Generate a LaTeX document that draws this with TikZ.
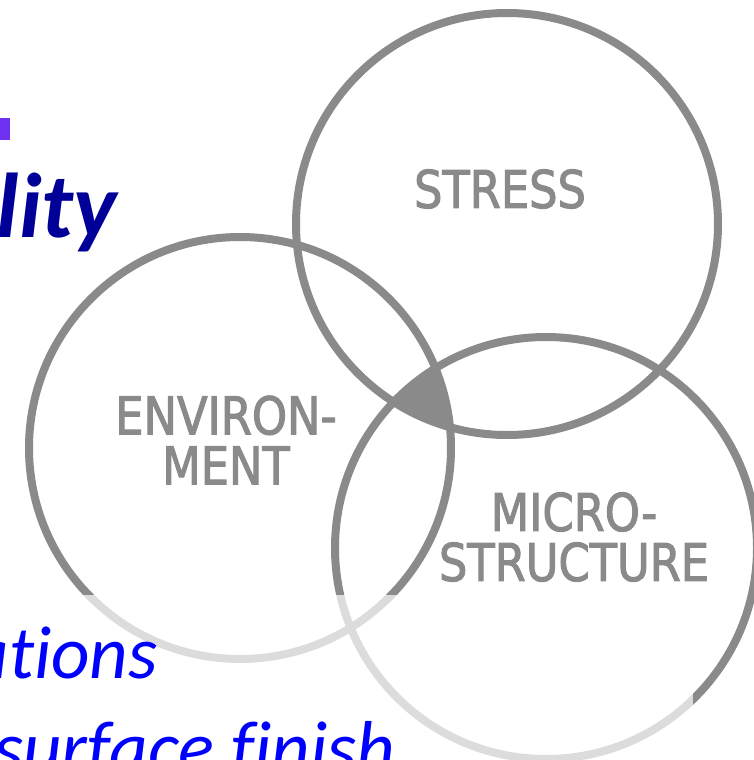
\documentclass[tikz,border=0pt]{standalone}
\usepackage{fontspec}
\newfontfamily\slidefont[Ligatures={NoCommon}]{Carlito}
\newfontfamily\letterfont[FakeStretch=0.86,FakeBold=2]{DejaVu Sans}
\definecolor{ringgray}{RGB}{138,138,138}
\definecolor{titleblue}{RGB}{0,0,153}
\definecolor{textblue}{RGB}{0,0,255}
\definecolor{titleviolet}{RGB}{112,48,240}
\tikzset{
  ring/.style={draw=ringgray,line width=8pt},
  lettering/.style={text=ringgray,inner sep=0pt,align=center,
    font=\letterfont\fontsize{52pt}{50pt}\selectfont},
  slidetext/.style={inner sep=0pt,font=\slidefont\itshape\fontsize{75pt}{80pt}\selectfont}
}

\begin{document}
\begin{tikzpicture}[x=1pt,y=-1pt]
  \clip (0,0) rectangle (754,760);
  \coordinate (stress) at (507,224);
  \coordinate (environment) at (240,448);
  \coordinate (micro) at (546,548);

  \begin{scope}
    \clip (stress) circle [radius=211];
    \clip (environment) circle [radius=211];
    \fill [ringgray] (micro) circle [radius=211];
  \end{scope}
  \draw [ring] (stress) circle [radius=211];
  \draw [ring] (environment) circle [radius=211];
  \draw [ring] (micro) circle [radius=211];

  \node [lettering] (stresstext) at (500,189) {STRESS};
  \node [lettering] (envtext) at (226,440) {ENVIRON-\\MENT};
  \node [lettering] (microtext) at (574,537) {MICRO-\\STRUCTURE};

  \fill [white,opacity=0.7] (0,595) rectangle (693,760);

  \fill [titleviolet] (0,118) rectangle (10,140);
  \node [slidetext,text=titleblue,anchor=base east,
    font=\slidefont\bfseries\itshape\fontsize{92pt}{96pt}\selectfont] (lity) at (117,237) {lity};
  \node [slidetext,text=textblue,anchor=base east] (ations) at (158,678) {ations};
  \node [slidetext,text=textblue,anchor=base west] (finish) at (-6,773) {surface finish};
\end{tikzpicture}
\end{document}
